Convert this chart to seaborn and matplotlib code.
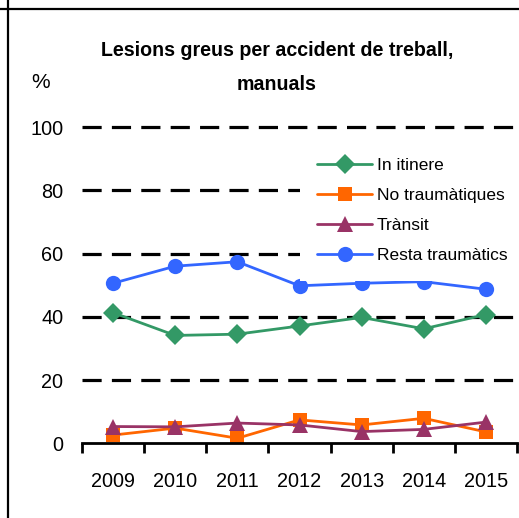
import matplotlib
matplotlib.use("Agg")
import matplotlib.pyplot as plt
from matplotlib.lines import Line2D
import seaborn as sns
import pandas as pd
import numpy as np

years = ["2009", "2010", "2011", "2012", "2013", "2014", "2015"]
in_itinere = [41.3, 34.1, 34.5, 37.1, 39.8, 36.2, 40.7]
no_traumatiques = [2.6, 4.8, 1.6, 7.4, 5.8, 7.9, 3.6]
transit = [5.3, 5.2, 6.4, 5.8, 3.7, 4.4, 6.7]
resta_traumatics = [50.6, 56.0, 57.4, 49.8, 50.6, 51.1, 48.7]

series_names = ["In itinere", "No traumàtiques", "Trànsit", "Resta traumàtics"]
series_vals = [in_itinere, no_traumatiques, transit, resta_traumatics]
colors = ["#339966", "#FF6600", "#993366", "#3366FF"]
markers = ["D", "s", "^", "o"]
yticks = [0, 20, 40, 60, 80, 100]

sns.set_theme(style="white")
plt.rcParams["font.family"] = ["Liberation Sans", "DejaVu Sans"]

rows = []
for name, vals in zip(series_names, series_vals):
    for i, v in enumerate(vals):
        rows.append({"x": i, "year": years[i], "serie": name, "value": v})
df = pd.DataFrame(rows)

fig = plt.figure(figsize=(5.19, 5.18), dpi=100)
ax = fig.add_axes([82/519, 1-443.3/518, (517-82)/519, (443.3-127)/518])

for y in yticks[1:]:
    ax.axhline(y, color="black", lw=2.3, ls=(0, (6, 3.2)), zorder=0, clip_on=False,
               xmax=1.01)

sns.lineplot(data=df, x="x", y="value", hue="serie", style="serie",
             hue_order=series_names, style_order=series_names,
             palette=dict(zip(series_names, colors)),
             markers=dict(zip(series_names, markers)),
             dashes=False, markersize=10.5, markeredgewidth=0, linewidth=2,
             ax=ax, legend=True)

msize = {"D": 10.5, "s": 10.5, "^": 12, "o": 11}

ax.set_xlim(-0.5, 6.5)
ax.set_ylim(0, 100)
ax.set_xlabel("")
ax.set_ylabel("")
for s in ["top", "right", "left"]:
    ax.spines[s].set_visible(False)
ax.spines["bottom"].set_color("black")
ax.spines["bottom"].set_linewidth(2)
ax.set_xticks(np.arange(-0.5, 7, 1))
ax.set_xticklabels([])
ax.set_xticks(np.arange(0, 7), minor=True)
ax.set_xticklabels(years, minor=True)
ax.tick_params(axis="x", which="major", bottom=True, length=7, width=2, color="black")
ax.tick_params(axis="x", which="minor", bottom=False, length=0, pad=21, labelsize=14.3, labelcolor="black")
ax.set_yticks(yticks)
ax.set_yticklabels([str(v) for v in yticks])
ax.tick_params(axis="y", left=False, length=0, pad=13.5, labelsize=14.3, labelcolor="black")

leg = ax.legend(loc="upper left", bbox_to_anchor=((300-82)/435, (443.3-140.6)/316.3),
                frameon=True, facecolor="white", edgecolor="none", framealpha=1,
                fancybox=False, borderpad=1.0,
                fontsize=12.5, handlelength=3.17, handletextpad=0.25,
                labelspacing=0.86, borderaxespad=0)
leg.set_zorder(5)
for t in leg.get_texts():
    t.set_color("black")

for ln in list(ax.lines) + list(leg.get_lines()):
    m = ln.get_marker()
    if isinstance(m, str) and m in msize:
        ln.set_markersize(msize[m])

fig.text(277/519, 1-50/518, "Lesions greus per accident de treball,", ha="center", va="center",
         fontsize=14.1, fontweight="bold", color="black")
fig.text(277/519, 1-84/518, "manuals", ha="center", va="center",
         fontsize=14.1, fontweight="bold", color="black")
fig.text(41/519, 1-82/518, "%", ha="center", va="center", fontsize=15, color="black")

fig.add_artist(Line2D([8/519, 8/519], [0, 1], transform=fig.transFigure, color="black", lw=1.6))
fig.add_artist(Line2D([0, 1], [1-9/518, 1-9/518], transform=fig.transFigure, color="black", lw=1.6))

fig.savefig("out.png", dpi=100)
